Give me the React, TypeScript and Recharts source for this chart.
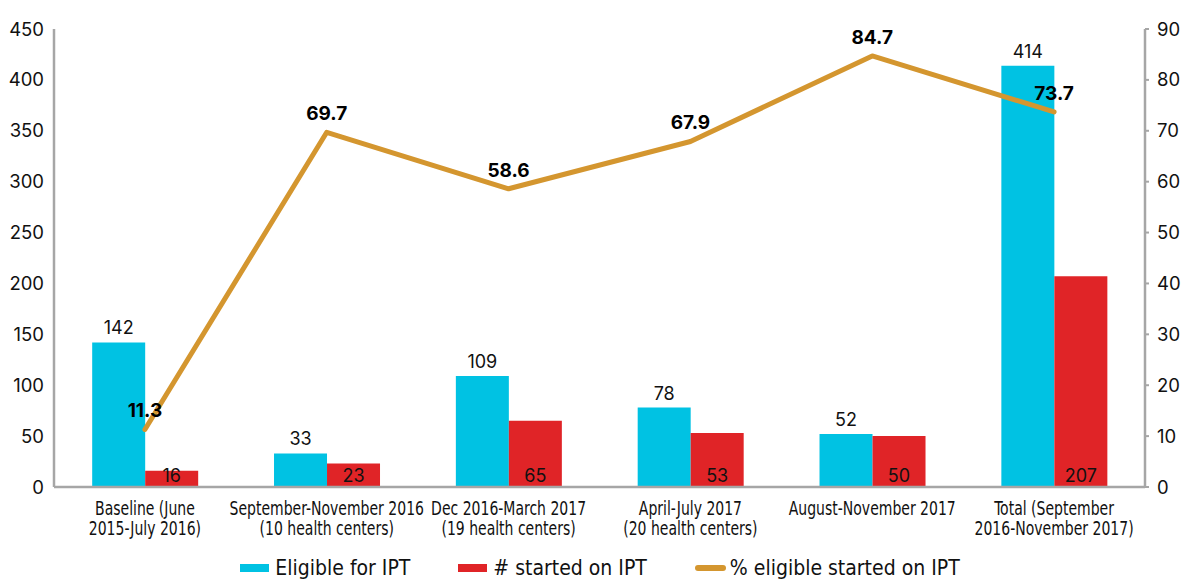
import React from "react";
import { ComposedChart, Bar, Line, XAxis, YAxis, LabelList, Legend } from "recharts";

const categories = [
  "Baseline (June\n2015-July 2016)",
  "September-November 2016\n(10 health centers)",
  "Dec 2016-March 2017\n(19 health centers)",
  "April-July 2017\n(20 health centers)",
  "August-November 2017",
  "Total (September\n2016-November 2017)",
];
const eligible = [142, 33, 109, 78, 52, 414];
const started = [16, 23, 65, 53, 50, 207];
const percent = [11.3, 69.7, 58.6, 67.9, 84.7, 73.7];
const leftTicks = [0, 50, 100, 150, 200, 250, 300, 350, 400, 450];
const rightTicks = [0, 10, 20, 30, 40, 50, 60, 70, 80, 90];

const data = categories.map((c, i) => ({
  name: c,
  eligible: eligible[i],
  started: started[i],
  percent: percent[i],
}));

const CYAN = "#00C2E3";
const RED = "#E02427";
const GOLD = "#D4962F";
const AXIS = "#A6A6A6";
const NARROW = "'DejaVu Sans Condensed', 'DejaVu Sans', sans-serif";
const NUM = "Inter, 'Liberation Sans', Arial, sans-serif";

const CatTick = (props: any) => {
  const { x, y, payload } = props;
  const lines = String(payload.value).split("\n");
  return (
    <g transform={`translate(${x},${y}) scale(0.82,1)`}>
      {lines.map((l, i) => (
        <text
          key={i}
          x={0}
          y={0}
          dy={20 + i * 20}
          textAnchor="middle"
          fill="#111"
          fontSize={19}
          fontFamily={NARROW}
        >
          {l}
        </text>
      ))}
    </g>
  );
};

const legendItems = [
  { label: "Eligible for IPT", color: CYAN, type: "rect" },
  { label: "# started on IPT", color: RED, type: "rect" },
  { label: "% eligible started on IPT", color: GOLD, type: "line" },
];

const CustomLegend = () => (
  <div
    style={{
      display: "flex",
      justifyContent: "center",
      alignItems: "center",
      gap: 48,
      fontFamily: NARROW,
      fontSize: 21,
      color: "#111",
      paddingLeft: 14,
      paddingTop: 7,
    }}
  >
    {legendItems.map((it) => (
      <div key={it.label} style={{ display: "flex", alignItems: "center" }}>
        <svg width={32} height={12} style={{ marginRight: 3 }}>
          {it.type === "rect" ? (
            <rect x={0} y={2} width={29} height={8} fill={it.color} />
          ) : (
            <line x1={3} y1={6} x2={28} y2={6} stroke={it.color} strokeWidth={6} strokeLinecap="round" />
          )}
        </svg>
        <span>{it.label}</span>
      </div>
    ))}
  </div>
);

export default function App() {
  return (
    <div style={{ position: "absolute", left: 0, top: 0, background: "#fff" }}>
      <ComposedChart
        width={1186}
        height={579}
        data={data}
        margin={{ top: 29, right: 0, bottom: 0, left: 0 }}
        barCategoryGap="21%"
        barGap={0}
      >
        <XAxis
          dataKey="name"
          tick={<CatTick />}
          tickLine={false}
          axisLine={{ stroke: AXIS, strokeWidth: 2.5 }}
          interval={0}
          height={62}
        />
        <YAxis
          yAxisId="left"
          domain={[0, 450]}
          ticks={leftTicks}
          width={54}
          tickLine={false}
          axisLine={{ stroke: AXIS, strokeWidth: 2.5 }}
          tick={{ fill: "#111", fontSize: 18.5, fontFamily: NUM }}
          tickMargin={4}
          interval={0}
        />
        <YAxis
          yAxisId="right"
          orientation="right"
          domain={[0, 90]}
          ticks={rightTicks}
          width={41}
          tickLine={{ stroke: AXIS, strokeWidth: 2 }}
          tickSize={4}
          axisLine={{ stroke: AXIS, strokeWidth: 2.5 }}
          tick={{ fill: "#111", fontSize: 18.5, fontFamily: NUM, textAnchor: "start" }}
          tickMargin={8}
          interval={0}
        />
        <Legend verticalAlign="bottom" height={30} content={<CustomLegend />} />
        <Bar yAxisId="left" dataKey="eligible" name="Eligible for IPT" fill={CYAN} isAnimationActive={false}>
          <LabelList dataKey="eligible" position="top" offset={8} fill="#111" fontSize={18} fontFamily={NUM} />
        </Bar>
        <Bar yAxisId="left" dataKey="started" name="# started on IPT" fill={RED} isAnimationActive={false}>
          <LabelList dataKey="started" position="insideBottom" offset={5} fill="#111" fontSize={18} fontFamily={NUM} />
        </Bar>
        <Line
          yAxisId="right"
          dataKey="percent"
          name="% eligible started on IPT"
          stroke={GOLD}
          strokeWidth={5}
          strokeLinecap="round"
          strokeLinejoin="round"
          dot={false}
          activeDot={false}
          isAnimationActive={false}
        >
          <LabelList dataKey="percent" position="top" offset={12} fill="#000" fontSize={19} fontWeight="bold" fontFamily={NUM} />
        </Line>
      </ComposedChart>
    </div>
  );
}
